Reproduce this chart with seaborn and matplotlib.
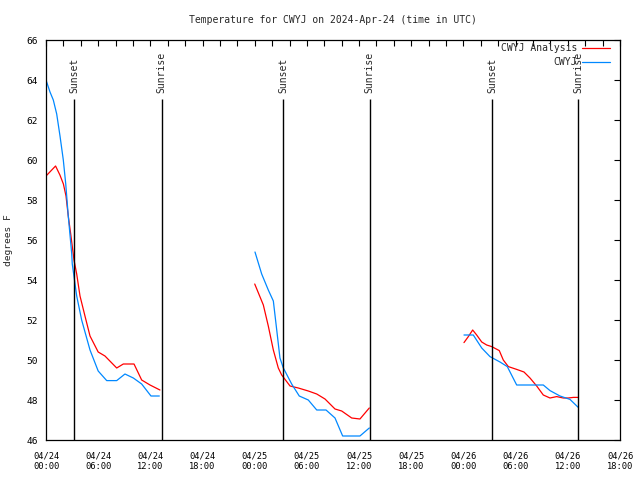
import pandas as pd
import numpy as np
import matplotlib.pyplot as plt
import seaborn as sns
from matplotlib.lines import Line2D
from matplotlib.ticker import MultipleLocator

# ==========================
# Data (hours since 04/24 00:00 UTC, degrees F)
# ==========================

analysis_hours = [
    [0.0, 1.1, 1.6, 2.0, 2.3, 2.56, 2.84, 3.22, 3.53, 3.91, 4.48, 5.06, 6.0,
     6.78, 8.13, 8.89, 10.12, 11.0, 11.96, 13.1],
    [24.0, 24.99, 25.56, 26.14, 26.71, 27.1, 28.06, 29.01, 30.16, 31.13,
     32.08, 33.23, 34.0, 35.15, 36.1, 37.17],
    [48.06, 48.56, 49.06, 49.52, 50.1, 50.67, 51.25, 52.12, 52.58, 53.16,
     54.12, 54.96, 55.65, 56.42, 57.18, 57.95, 58.72, 59.48, 60.05, 60.63, 61.2],
]
analysis_temps = [
    [59.2, 59.7, 59.25, 58.8, 58.2, 57.2, 56.3, 55.0, 54.3, 53.2, 52.2, 51.2,
     50.4, 50.2, 49.6, 49.8, 49.8, 49.0, 48.75, 48.5],
    [53.8, 52.75, 51.7, 50.5, 49.6, 49.25, 48.7, 48.6, 48.45, 48.3, 48.05,
     47.55, 47.45, 47.1, 47.05, 47.6],
    [50.87, 51.17, 51.5, 51.25, 50.9, 50.75, 50.67, 50.47, 50.0, 49.67, 49.53,
     49.4, 49.1, 48.7, 48.25, 48.1, 48.17, 48.1, 48.1, 48.13, 48.13],
]

station_hours = [
    [0.0, 0.46, 0.84, 1.23, 1.61, 1.99, 2.27, 2.56, 2.96, 3.02, 3.53, 4.1,
     5.06, 6.0, 6.98, 8.13, 9.08, 10.04, 11.0, 12.07, 13.03],
    [24.03, 24.8, 25.56, 26.14, 26.53, 26.9, 27.29, 28.25, 29.12, 30.16,
     31.13, 32.2, 33.23, 34.11, 36.1, 37.17],
    [48.06, 49.13, 50.1, 51.05, 52.2, 53.04, 54.12, 57.18, 57.95, 59.1,
     60.25, 61.2],
]
station_temps = [
    [64.0, 63.4, 63.0, 62.3, 61.2, 60.0, 58.8, 57.2, 55.3, 54.8, 53.2, 52.0,
     50.5, 49.45, 48.97, 48.97, 49.3, 49.1, 48.8, 48.2, 48.2],
    [55.4, 54.3, 53.5, 52.95, 51.5, 50.1, 49.6, 48.8, 48.2, 48.0, 47.5, 47.5,
     47.1, 46.2, 46.2, 46.6],
    [51.25, 51.25, 50.6, 50.17, 49.9, 49.67, 48.75, 48.75, 48.47, 48.2,
     48.03, 47.63],
]

sunset_hours = [3.22, 27.28, 51.33]
sunrise_hours = [13.3, 37.2, 61.2]

tick_days = ["04/24"] * 4 + ["04/25"] * 4 + ["04/26"] * 4
tick_times = ["00:00", "06:00", "12:00", "18:00"] * 3

series_names = ["CWYJ Analysis", "CWYJ"]
series_colors = ["#ff0000", "#0088ff"]

# ==========================
# Build long table
# ==========================

rows = []
for name, hours, temps in [(series_names[0], analysis_hours, analysis_temps),
                           (series_names[1], station_hours, station_temps)]:
    for seg, (hh, tt) in enumerate(zip(hours, temps)):
        for h, t in zip(hh, tt):
            rows.append({"series": name, "seg": seg, "hour": h, "temp": t})
df = pd.DataFrame(rows)

# ==========================
# Plot
# ==========================

sns.set_style("white")
plt.rcParams["font.family"] = ["DejaVu Sans Mono"]
plt.rcParams["font.size"] = 7

fig = plt.figure(figsize=(6.4, 4.8), dpi=100)
ax = fig.add_axes([46 / 640, 40 / 480, 574 / 640, 400 / 480])

sns.lineplot(data=df, x="hour", y="temp", hue="series", units="seg",
             estimator=None, hue_order=series_names, palette=series_colors,
             linewidth=0.9, legend=False, ax=ax, sort=False)

for x in sunset_hours + sunrise_hours:
    ax.vlines(x, 46, 63.05, color="black", linewidth=1.0)
for x in sunset_hours:
    ax.text(x, 63.35, "Sunset", rotation=90, ha="center", va="bottom")
for x in sunrise_hours:
    ax.text(x, 63.35, "Sunrise", rotation=90, ha="center", va="bottom")

ax.set_xlim(0, 66)
ax.set_ylim(46, 66)
ax.set_xticks(np.arange(0, 67, 6))
ax.set_xticklabels([d + "\n" + t for d, t in zip(tick_days, tick_times)],
                   fontsize=6.3, linespacing=1.3)
ax.xaxis.set_minor_locator(MultipleLocator(2))
ax.set_yticks(np.arange(46, 67, 2))
ax.set_yticklabels([str(v) for v in range(46, 67, 2)], fontsize=6.8)

ax.tick_params(axis="both", which="both", direction="in", top=True,
               right=True, length=4, width=0.8, colors="black")
ax.tick_params(axis="x", pad=8)
ax.tick_params(axis="y", pad=6)
for s in ax.spines.values():
    s.set_color("black")
    s.set_linewidth(0.9)

ax.set_xlabel("")
ax.set_ylabel("degrees F", fontsize=6.8)
ax.yaxis.set_label_coords(-0.0575, 0.5)
ax.set_title("Temperature for CWYJ on 2024-Apr-24 (time in UTC)",
             fontsize=7, pad=12)

handles = [Line2D([], [], color=c, linewidth=0.9) for c in series_colors]
ax.legend(handles, series_names, loc="upper right",
          bbox_to_anchor=(0.9826, 0.9925), bbox_transform=ax.transAxes,
          frameon=False, markerfirst=False, borderpad=0, borderaxespad=0,
          handlelength=2.9, handletextpad=0.5, labelspacing=0.45)

plt.savefig("out.png", dpi=100)
